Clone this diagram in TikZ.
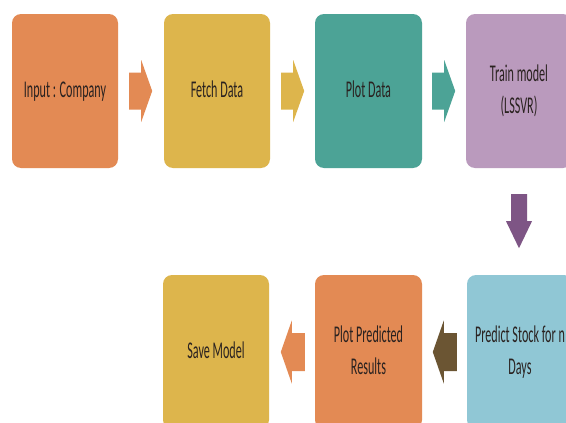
\documentclass[tikz,border=0pt]{standalone}
\usepackage{fontspec}
\usepackage{graphicx}
\setmainfont{Carlito}
\definecolor{corange}{HTML}{E38A54}
\definecolor{cyellow}{HTML}{DDB54C}
\definecolor{cteal}{HTML}{4CA396}
\definecolor{cmauve}{HTML}{BA9ABD}
\definecolor{cblue}{HTML}{90C7D5}
\definecolor{cpurple}{HTML}{7E5585}
\definecolor{cbrown}{HTML}{6B5533}
\definecolor{ctext}{HTML}{2A2220}
\newcommand\sqtext[1]{\scalebox{0.505}[1]{\fontsize{24}{32}\selectfont\begin{tabular}{@{}c@{}}#1\end{tabular}}}
\tikzset{
  stepbox/.style={rounded corners=9pt, minimum width=106pt, minimum height=154pt, inner sep=0pt, text=ctext},
  rarrow/.pic={\path[pic actions] (0,-18.5) -- (12,-18.5) -- (12,-31) -- (23,0) -- (12,31) -- (12,18.5) -- (0,18.5) -- cycle;},
  larrow/.pic={\path[pic actions] (0,-19) -- (-13,-19) -- (-13,-31.5) -- (-24,0) -- (-13,31.5) -- (-13,19) -- (0,19) -- cycle;},
  darrow/.pic={\path[pic actions] (-8,0) -- (8,0) -- (8,27) -- (13,27) -- (0,54) -- (-13,27) -- (-8,27) -- cycle;}
}
\begin{document}
\begin{tikzpicture}[x=1pt,y=-1pt]
\useasboundingbox (0,0) rectangle (566,423);
\fill[white] (0,0) rectangle (566,423);
% top row
\node[stepbox, fill=corange] (b1) at (65,91) {\sqtext{Input : Company}};
\node[stepbox, fill=cyellow] (b2) at (217,91) {\sqtext{Fetch Data}};
\node[stepbox, fill=cteal, minimum width=107pt] (b3) at (368.5,91) {\sqtext{Plot Data}};
\node[stepbox, fill=cmauve] (b4) at (519,91) {\sqtext{Train model\\(LSSVR)}};
% bottom row
\node[stepbox, fill=cblue] (b5) at (520,352) {\sqtext{Predict Stock for n\\Days}};
\node[stepbox, fill=corange, minimum width=107pt] (b6) at (368.5,352) {\sqtext{Plot Predicted\\Results}};
\node[stepbox, fill=cyellow] (b7) at (216,352) {\sqtext{Save Model}};
% block arrows
\pic[fill=corange] at ([xshift=11pt]b1.east) {rarrow};
\pic[fill=cyellow] at ([xshift=11pt]b2.east) {rarrow};
\pic[fill=cteal] at ([xshift=10pt]b3.east) {rarrow};
\pic[fill=cpurple] at ([yshift=-26pt]b4.south) {darrow};
\pic[fill=cbrown] at ([xshift=-10pt]b5.west) {larrow};
\pic[fill=corange] at ([xshift=-10pt]b6.west) {larrow};
\end{tikzpicture}
\end{document}
